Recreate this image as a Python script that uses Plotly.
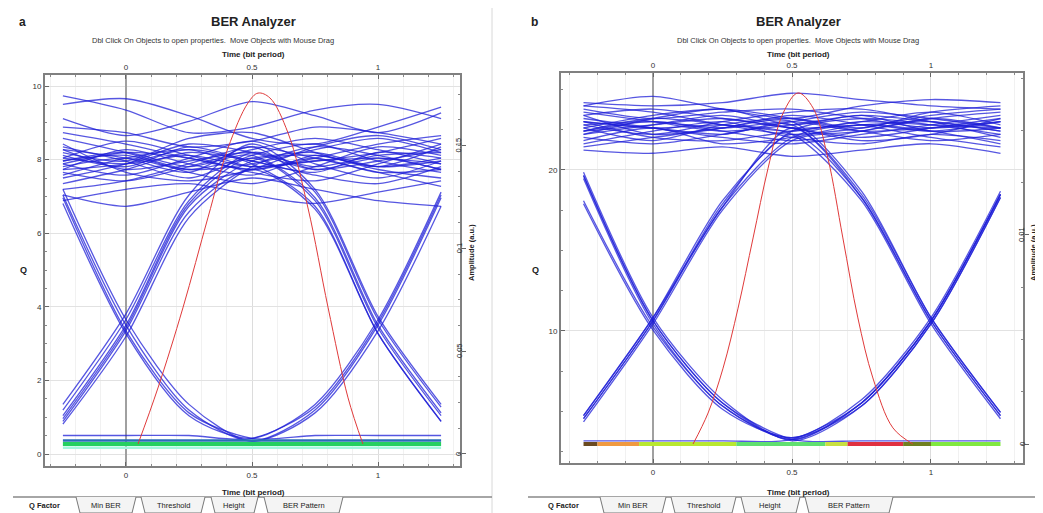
import plotly.graph_objects as go

W, H = 1043, 513

# ---------------- data ----------------
XS = [-0.25, 0, 0.25, 0.5, 0.75, 1.0, 1.25]   # sample instants (bit period)

# Panel a: eye traces, normalised amplitude (0 = "0" level, 1 = "1" level)
A_TOP = [
    [1.02, 0.98, 1.05, 1.00, 0.96, 1.03, 1.01],
    [0.97, 1.04, 0.99, 0.95, 1.02, 0.98, 1.05],
    [1.05, 1.00, 0.94, 1.02, 1.06, 1.00, 0.96],
    [0.99, 0.95, 1.01, 1.07, 0.99, 0.94, 1.00],
    [1.08, 1.03, 0.97, 0.99, 1.04, 1.08, 1.03],
    [0.94, 0.99, 1.06, 1.03, 0.97, 1.01, 0.97],
    [1.01, 1.07, 1.02, 0.96, 0.93, 0.99, 1.06],
    [0.96, 0.93, 0.98, 1.04, 1.08, 1.04, 0.99],
    [1.10, 1.06, 1.01, 0.97, 1.01, 1.06, 1.09],
    [1.03, 1.00, 1.08, 1.10, 1.03, 0.97, 0.94],
    [0.92, 0.97, 1.03, 1.00, 0.95, 0.92, 0.98],
    [1.00, 1.02, 0.96, 0.92, 0.98, 1.05, 1.02],
    [1.12, 1.10, 1.05, 1.07, 1.12, 1.10, 1.06],
    [0.95, 1.01, 1.04, 0.98, 1.00, 1.03, 1.08],
    [1.06, 0.96, 0.93, 0.97, 1.05, 1.09, 1.04],
    [0.90, 0.93, 0.99, 1.05, 1.01, 0.96, 0.91],
    [1.01, 0.99, 1.02, 0.98, 1.00, 1.01, 0.99],
    [0.98, 1.01, 0.97, 1.01, 1.03, 0.98, 1.00],
    [1.04, 0.97, 1.00, 1.03, 0.98, 1.02, 1.03],
    [0.99, 1.03, 1.01, 0.97, 1.01, 0.96, 0.97],
    [1.23, 1.18, 1.10, 1.12, 1.18, 1.20, 1.15],
    [1.20, 1.22, 1.16, 1.08, 1.06, 1.12, 1.19],
    [1.15, 1.09, 1.14, 1.21, 1.16, 1.10, 1.17],
    [0.86, 0.90, 0.92, 0.88, 0.85, 0.89, 0.93],
    [0.88, 0.84, 0.89, 0.94, 0.90, 0.86, 0.84],
]
A_TRANS = [
    [0.88, 0.42, 0.12, 0.01, 0.12, 0.42, 0.87],
    [0.85, 0.39, 0.10, 0.02, 0.14, 0.44, 0.89],
    [0.90, 0.44, 0.14, 0.01, 0.11, 0.40, 0.84],
    [0.87, 0.40, 0.11, 0.02, 0.03, 0.03, 0.03],
    [0.03, 0.03, 0.03, 0.02, 0.13, 0.43, 0.88],
    [0.09, 0.41, 0.84, 1.00, 1.02, 0.98, 1.01],
    [0.12, 0.44, 0.86, 1.03, 0.97, 1.00, 1.04],
    [0.07, 0.38, 0.80, 0.98, 1.05, 1.02, 0.97],
    [0.10, 0.42, 0.85, 1.01, 0.86, 0.41, 0.10],
    [0.08, 0.40, 0.82, 0.97, 0.83, 0.39, 0.08],
    [1.00, 1.03, 0.98, 1.02, 0.87, 0.42, 0.11],
    [0.97, 0.99, 1.04, 0.99, 0.84, 0.39, 0.08],
    [1.04, 1.01, 0.96, 1.05, 0.89, 0.44, 0.13],
    [0.14, 0.46, 0.88, 1.06, 0.90, 0.45, 0.14],
]
A_RED_X = [0.048, 0.127, 0.226, 0.325, 0.405, 0.484, 0.524, 0.571, 0.643, 0.722, 0.802, 0.881, 0.940]
A_RED_Y = [0.0, 0.198, 0.481, 0.799, 1.046, 1.205, 1.240, 1.223, 1.099, 0.834, 0.481, 0.163, 0.0]
A_BASE = [(0.012, "#2a6fb8", 2.5), (0.0, "#25d060", 4.0), (-0.013, "#a5f7df", 2.5)]
A_Q_TICKS = [0, 2, 4, 6, 8, 10]
A_AMP_TICKS = [0, 0.05, 0.1, 0.15]

# Panel b
B_TOP = [
    [1.05, 1.02, 0.99, 1.01, 1.04, 1.02, 0.99],
    [0.98, 1.01, 1.04, 1.00, 0.97, 1.00, 1.03],
    [1.02, 0.97, 0.96, 0.99, 1.02, 1.05, 1.01],
    [0.95, 0.99, 1.02, 0.97, 0.95, 0.98, 0.96],
    [1.07, 1.05, 1.01, 0.98, 1.00, 1.04, 1.06],
    [1.00, 1.04, 1.06, 1.03, 0.99, 0.96, 0.98],
    [0.97, 0.95, 0.98, 1.02, 1.05, 1.03, 1.00],
    [1.03, 1.00, 0.97, 0.95, 0.98, 1.01, 1.04],
    [0.94, 0.97, 1.00, 1.04, 1.01, 0.97, 0.94],
    [1.06, 1.03, 1.05, 1.06, 1.03, 1.00, 1.02],
    [0.99, 1.02, 0.99, 0.96, 0.99, 1.03, 1.05],
    [1.01, 0.98, 1.02, 1.05, 1.06, 1.02, 0.97],
    [0.96, 1.00, 0.95, 0.97, 1.01, 0.99, 0.95],
    [1.04, 1.06, 1.03, 1.00, 0.96, 0.98, 1.03],
    [1.00, 0.96, 1.01, 1.03, 1.00, 1.05, 1.07],
    [0.98, 1.03, 1.06, 1.01, 1.04, 0.99, 1.00],
    [1.02, 1.00, 1.01, 0.99, 1.02, 1.01, 1.00],
    [1.01, 1.02, 1.00, 1.02, 0.99, 1.00, 1.02],
    [0.99, 1.01, 1.03, 1.00, 1.01, 1.02, 0.99],
    [1.08, 1.07, 1.08, 1.11, 1.09, 1.07, 1.06],
    [0.93, 0.92, 0.94, 0.91, 0.93, 0.95, 0.92],
    [1.07, 1.10, 1.06, 1.03, 1.07, 1.09, 1.08],
]
B_TRANS = [
    [0.85, 0.39, 0.13, 0.013, 0.13, 0.39, 0.79],
    [0.84, 0.38, 0.12, 0.02, 0.14, 0.40, 0.80],
    [0.86, 0.40, 0.14, 0.01, 0.12, 0.38, 0.78],
    [0.77, 0.37, 0.12, 0.015, 0.13, 0.39, 0.79],
    [0.76, 0.36, 0.11, 0.02, 0.12, 0.38, 0.78],
    [0.85, 0.39, 0.13, 0.015, 0.01, 0.01, 0.01],
    [0.01, 0.01, 0.01, 0.015, 0.13, 0.39, 0.79],
    [0.08, 0.39, 0.75, 0.97, 1.01, 0.99, 1.02],
    [0.09, 0.40, 0.77, 0.99, 1.03, 1.01, 0.98],
    [0.07, 0.38, 0.74, 0.96, 0.99, 1.03, 1.00],
    [0.08, 0.39, 0.76, 0.98, 0.78, 0.39, 0.09],
    [0.09, 0.40, 0.75, 1.00, 0.79, 0.40, 0.10],
    [1.02, 1.00, 0.98, 1.01, 0.78, 0.39, 0.09],
    [0.99, 1.03, 1.01, 0.98, 0.77, 0.38, 0.08],
    [1.04, 0.98, 1.00, 1.02, 0.80, 0.40, 0.10],
]
B_RED_X = [0.144, 0.198, 0.252, 0.306, 0.360, 0.414, 0.468, 0.522, 0.576, 0.629, 0.683, 0.737, 0.791, 0.863, 0.935]
B_RED_Y = [0.0, 0.098, 0.240, 0.430, 0.652, 0.873, 1.047, 1.111, 1.063, 0.905, 0.652, 0.399, 0.209, 0.051, 0.0]
B_BASE_SEG = [(-0.25, -0.20, "#6a4a20"), (-0.20, -0.05, "#f09a40"), (-0.05, 0.30, "#b8e830"),
              (0.30, 0.62, "#60e070"), (0.62, 0.70, "#c8e040"), (0.70, 0.90, "#e03040"),
              (0.90, 1.00, "#708020"), (1.00, 1.25, "#80e840")]
B_Q_TICKS = [10, 20]
B_AMP_TICKS = [0, 0.01]

X_TICKS = [0, 0.5, 1]
TABS = ["Q Factor", "Min BER", "Threshold", "Height", "BER Pattern"]

# ---------------- figure ----------------
FONT = "Liberation Sans, Arial, sans-serif"
EYE = "rgba(30,30,215,0.75)"
fig = go.Figure()


def add_eye(rows, xa, ya):
    for r in rows:
        fig.add_trace(go.Scatter(x=XS, y=r, mode="lines", xaxis=xa, yaxis=ya,
                                 line=dict(color=EYE, width=1.3, shape="spline", smoothing=0.8),
                                 hoverinfo="skip", showlegend=False))


def anchor_trace(xa, ya):
    # empty trace so that the overlaid scale axes are rendered
    fig.add_trace(go.Scatter(x=[None], y=[None], mode="lines", xaxis=xa, yaxis=ya,
                             hoverinfo="skip", showlegend=False))


# panel a
add_eye(A_TOP, "x", "y")
add_eye(A_TRANS, "x", "y")
for y, c, w in A_BASE:
    fig.add_trace(go.Scatter(x=[XS[0], XS[-1]], y=[y, y], mode="lines", xaxis="x", yaxis="y",
                             line=dict(color=c, width=w), hoverinfo="skip", showlegend=False))
fig.add_trace(go.Scatter(x=A_RED_X, y=A_RED_Y, mode="lines", xaxis="x", yaxis="y",
                         line=dict(color="#e03a3a", width=1, shape="spline"), showlegend=False))
anchor_trace("x2", "y")
anchor_trace("x", "y2")
anchor_trace("x", "y3")

# panel b
add_eye(B_TOP, "x3", "y4")
add_eye(B_TRANS, "x3", "y4")
for x0, x1, c in B_BASE_SEG:
    fig.add_trace(go.Scatter(x=[x0, x1], y=[0, 0], mode="lines", xaxis="x3", yaxis="y4",
                             line=dict(color=c, width=4), hoverinfo="skip", showlegend=False))
fig.add_trace(go.Scatter(x=B_RED_X, y=B_RED_Y, mode="lines", xaxis="x3", yaxis="y4",
                         line=dict(color="#e03a3a", width=1, shape="spline"), showlegend=False))
anchor_trace("x4", "y4")
anchor_trace("x3", "y5")
anchor_trace("x3", "y6")


def px(x):
    return x / W


def py(y):
    return 1 - y / H


def dom_x(a, b):
    return [px(a), px(b)]


def dom_y(top, bot):
    return [py(bot), py(top)]


TF = dict(family=FONT, size=8, color="#333")
LINE = dict(showline=True, linecolor="#808080", linewidth=2)


def xaxes(xa_main, xa_top, ya, dom, rng):
    common = dict(range=rng, tickmode="array", tickvals=X_TICKS, ticktext=["0", "0.5", "1"],
                  ticks="inside", ticklen=4, tickcolor="#666", tickfont=TF, **LINE)
    fig.layout[xa_main] = dict(domain=dom, anchor=ya, side="bottom", showgrid=True,
                               gridcolor="#dcdcdc", zeroline=True, zerolinecolor="#a0a0a0",
                               zerolinewidth=1.5, mirror=False,
                               minor=dict(ticks="inside", ticklen=2, tickcolor="#888",
                                          dtick=0.1, tick0=0, showgrid=True, gridcolor="#f1f1f1"),
                               **common)
    fig.layout[xa_top] = dict(overlaying=xa_main.replace("axis", ""), anchor=ya, side="top",
                              showgrid=False, zeroline=False,
                              minor=dict(ticks="inside", ticklen=2, tickcolor="#888", dtick=0.1, tick0=0),
                              **common)


def amp_axis(over, anchor, rng, tickvals, minor_dtick):
    return dict(overlaying=over, anchor=anchor, side="right", range=rng,
                tickmode="array", tickvals=tickvals, showticklabels=False,
                ticks="outside", ticklen=4, tickcolor="#666",
                showgrid=False, zeroline=False,
                minor=dict(ticks="inside", ticklen=2, tickcolor="#888", dtick=minor_dtick, tick0=0),
                **LINE)


# panel a axes (plot box px: x 37-452, y 67-458)
xaxes("xaxis", "xaxis2", "y", dom_x(37, 452), [-0.321, 1.325])
fig.layout.yaxis = dict(domain=dom_y(67, 458), anchor="x", range=[-0.0777, 1.3039], visible=False)
fig.layout.yaxis2 = dict(overlaying="y", anchor="x", side="left", range=[-0.326, 10.30],
                         tickmode="array", tickvals=A_Q_TICKS, ticktext=[str(v) for v in A_Q_TICKS],
                         ticks="inside", ticklen=4, tickcolor="#666", tickfont=TF,
                         showgrid=True, gridcolor="#e2e2e2", zeroline=False,
                         minor=dict(ticks="inside", ticklen=2, tickcolor="#888", dtick=0.5, tick0=0),
                         **LINE)
fig.layout.yaxis3 = amp_axis("y", "x", [-0.00588, 0.1843], A_AMP_TICKS, 0.0125)

# panel b axes (plot box px: x 553-1015, y 65-455)
xaxes("xaxis3", "xaxis4", "y4", dom_x(553, 1015), [-0.331, 1.331])
fig.layout.yaxis4 = dict(domain=dom_y(65, 455), anchor="x3", range=[-0.0601, 1.174], visible=False)
fig.layout.yaxis5 = dict(overlaying="y4", anchor="x3", side="left", range=[1.80, 26.02],
                         tickmode="array", tickvals=B_Q_TICKS, ticktext=[str(v) for v in B_Q_TICKS],
                         ticks="inside", ticklen=4, tickcolor="#666", tickfont=TF,
                         showgrid=True, gridcolor="#e2e2e2", zeroline=False,
                         minor=dict(ticks="inside", ticklen=2, tickcolor="#888", dtick=2.5, tick0=0),
                         **LINE)
fig.layout.yaxis6 = amp_axis("y4", "x3", [-0.000909, 0.01775], B_AMP_TICKS, 0.0025)

# ---------------- texts ----------------
ann = []


def text(x, y, s, size=8, bold=False, color="#222", angle=0, xanchor="center", yref="paper"):
    yy = py(y) if yref == "paper" else y
    ann.append(dict(x=px(x), y=yy, xref="paper", yref=yref, text=f"<b>{s}</b>" if bold else s,
                    showarrow=False, font=dict(family=FONT, size=size, color=color),
                    textangle=angle, xanchor=xanchor, yanchor="middle"))


# right-hand amplitude tick labels (rotated, placed on the amplitude scales);
# rotated annotations render ~8 px right of their anchor, so anchors are offset
for v in A_AMP_TICKS:
    text(451, v, str(v), size=7.5, angle=-90, yref="y3")
for v in B_AMP_TICKS:
    text(1014, v, str(v), size=7.5, angle=-90, yref="y6")

SUB = "Dbl Click On Objects to open properties.  Move Objects with Mouse Drag"
for cx, lab, lx, qx, ampx, subx in [(245, "a", 14, 15, 463, 205), (790, "b", 526, 527, 1025, 790)]:
    text(lx, 14, lab, size=12, bold=True)
    text(cx, 13, "BER Analyzer", size=13, bold=True)
    text(subx, 32, SUB, size=7.5, color="#333")
    text(cx, 46, "Time (bit period)", size=8, bold=True)
    text(cx, 484, "Time (bit period)", size=8, bold=True)
    text(qx, 262, "Q", size=9, bold=True)
    text(ampx, 245, "Amplitude (a.u.)", size=7.5, bold=True, angle=-90)

shapes = []


def seg(x0, y0, x1, y1, color="#909090", w=1):
    shapes.append(dict(type="line", xref="paper", yref="paper", x0=px(x0), y0=py(y0),
                       x1=px(x1), y1=py(y1), line=dict(color=color, width=w)))


# window separators
seg(484, 0, 484, 513, "#d8d8d8", 1)

# tab strips
for x_start, x_end, tabs in [
    (5, 484, [(10, 62), (68, 128), (133, 197), (203, 250), (256, 335)]),
    (520, 1040, [(523, 588), (592, 658), (663, 728), (733, 792), (797, 885)]),
]:
    seg(x_start, 489, x_end, 489, "#888", 1.5)
    for i, ((a, b), name) in enumerate(zip(tabs, TABS)):
        if i > 0:
            path = (f"M {px(a)},{py(489)} L {px(a + 4)},{py(505)} "
                    f"L {px(b - 4)},{py(505)} L {px(b)},{py(489)}")
            shapes.append(dict(type="path", xref="paper", yref="paper", path=path,
                               line=dict(color="#777", width=1), fillcolor="#f4f4f4"))
        text((a + b) / 2, 497, name, size=7.5, bold=(i == 0), color="#222")

fig.update_layout(width=W, height=H, autosize=False, margin=dict(l=0, r=0, t=0, b=0),
                  paper_bgcolor="white", plot_bgcolor="white", showlegend=False,
                  annotations=ann, shapes=shapes, font=dict(family=FONT))

fig.write_html("out.html")
